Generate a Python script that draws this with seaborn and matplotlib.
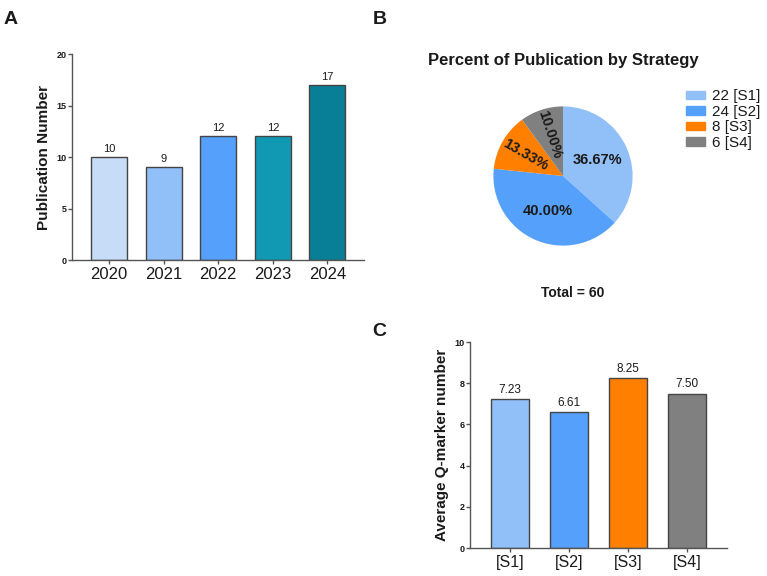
import math
import matplotlib
matplotlib.use("Agg")
import matplotlib.pyplot as plt
import matplotlib.patches as mpatches
import seaborn as sns
import pandas as pd

# ── data ──────────────────────────────────────────────────────────────────────
years      = ["2020", "2021", "2022", "2023", "2024"]
pub_counts = [10, 9, 12, 12, 17]
year_colors = ["#c6dcf7", "#91bff7", "#55a0fb", "#1199b3", "#087f96"]

strategies      = ["[S1]", "[S2]", "[S3]", "[S4]"]
strategy_counts = [22, 24, 8, 6]
strategy_colors = ["#91bff7", "#55a0fb", "#ff7f00", "#808080"]

avg_qmarkers = [7.23, 6.61, 8.25, 7.50]

sns.set_theme(style="ticks")
plt.rcParams["font.family"] = ["Liberation Sans", "DejaVu Sans"]
plt.rcParams.update({
    "axes.edgecolor": "#555555",
    "axes.linewidth": 1.0,
    "xtick.color": "#555555",
    "ytick.color": "#555555",
    "xtick.labelcolor": "#1a1a1a",
    "ytick.labelcolor": "#1a1a1a",
    "text.color": "#1a1a1a",
    "axes.labelcolor": "#1a1a1a",
})

fig = plt.figure(figsize=(7.67, 5.76), dpi=100)


def style_bar_axes(ax, ylabel, ymax, ystep, xsize):
    sns.despine(ax=ax)
    ax.set_ylim(0, ymax)
    ax.set_yticks(range(0, ymax + 1, ystep))
    ax.set_ylabel(ylabel, fontsize=11, fontweight="bold", labelpad=4)
    ax.set_xlabel("")
    ax.tick_params(axis="y", labelsize=6.5, length=3, width=1, pad=1)
    ax.tick_params(axis="x", labelsize=xsize, length=3, width=1, pad=2)
    for lab in ax.get_yticklabels():
        lab.set_fontweight("bold")


# ── Panel A — publications per year ──────────────────────────────────────────
ax_a = fig.add_axes([0.0939, 0.5486, 0.3807, 0.3576])
df_a = pd.DataFrame({"year": years, "count": pub_counts})
sns.barplot(data=df_a, x="year", y="count", hue="year", palette=year_colors,
            legend=False, width=0.66, edgecolor="#444444", linewidth=1.0,
            saturation=1, ax=ax_a)
style_bar_axes(ax_a, "Publication Number", 20, 5, 12)
ax_a.set_xlim(-0.68, 4.67)
for i, v in enumerate(pub_counts):
    ax_a.text(i, v + 0.3, str(v), ha="center", va="bottom", fontsize=8)

# ── Panel B — pie by strategy ────────────────────────────────────────────────
ax_b = fig.add_axes([0.6206, 0.5434, 0.2269, 0.3021])
total = sum(strategy_counts)
wedges, _ = ax_b.pie(strategy_counts, colors=strategy_colors, startangle=90,
                     counterclock=False, radius=1.0,
                     wedgeprops={"linewidth": 0})
ax_b.set_aspect("equal")
angle = 90.0
for c in strategy_counts:
    span = 360.0 * c / total
    mid = angle - span / 2
    angle -= span
    pct = f"{100.0 * c / total:.2f}%"
    if span > 60:
        r, rot = 0.55, 0
    else:
        r, rot = 0.62, mid - 180
    ax_b.text(r * math.cos(math.radians(mid)), r * math.sin(math.radians(mid)),
              pct, ha="center", va="center", fontsize=10.5,
              fontweight="bold", rotation=rot, rotation_mode="anchor")

fig.text(0.734, 0.895, "Percent of Publication by Strategy", ha="center",
         va="center", fontsize=12, fontweight="bold")
fig.text(0.747, 0.491, f"Total = {total}", ha="center", va="center",
         fontsize=10, fontweight="bold")

handles = [mpatches.Patch(color=col, label=f"{n} {s}")
           for col, n, s in zip(strategy_colors, strategy_counts, strategies)]
fig.legend(handles=handles, loc="upper left", bbox_to_anchor=(0.895, 0.845),
           frameon=False, fontsize=11, handlelength=1.2, handleheight=0.5,
           handletextpad=0.45, labelspacing=0.1, borderaxespad=0,
           borderpad=0)

# ── Panel C — average Q-markers per strategy ─────────────────────────────────
ax_c = fig.add_axes([0.6128, 0.0486, 0.3350, 0.3576])
df_c = pd.DataFrame({"strategy": strategies, "avg": avg_qmarkers})
sns.barplot(data=df_c, x="strategy", y="avg", hue="strategy",
            palette=strategy_colors, legend=False, width=0.65,
            edgecolor="#444444", linewidth=1.0, saturation=1, ax=ax_c)
style_bar_axes(ax_c, "Average Q-marker number", 10, 2, 11.5)
ax_c.set_xlim(-0.68, 3.68)
for i, v in enumerate(avg_qmarkers):
    ax_c.text(i, v + 0.15, f"{v:.2f}", ha="center", va="bottom", fontsize=8.5)

# ── panel letters ────────────────────────────────────────────────────────────
for x, y, letter in [(0.005, 0.967, "A"), (0.486, 0.967, "B"),
                     (0.485, 0.425, "C")]:
    fig.text(x, y, letter, ha="left", va="center", fontsize=14,
             fontweight="bold")

fig.savefig("out.png", dpi=100)
